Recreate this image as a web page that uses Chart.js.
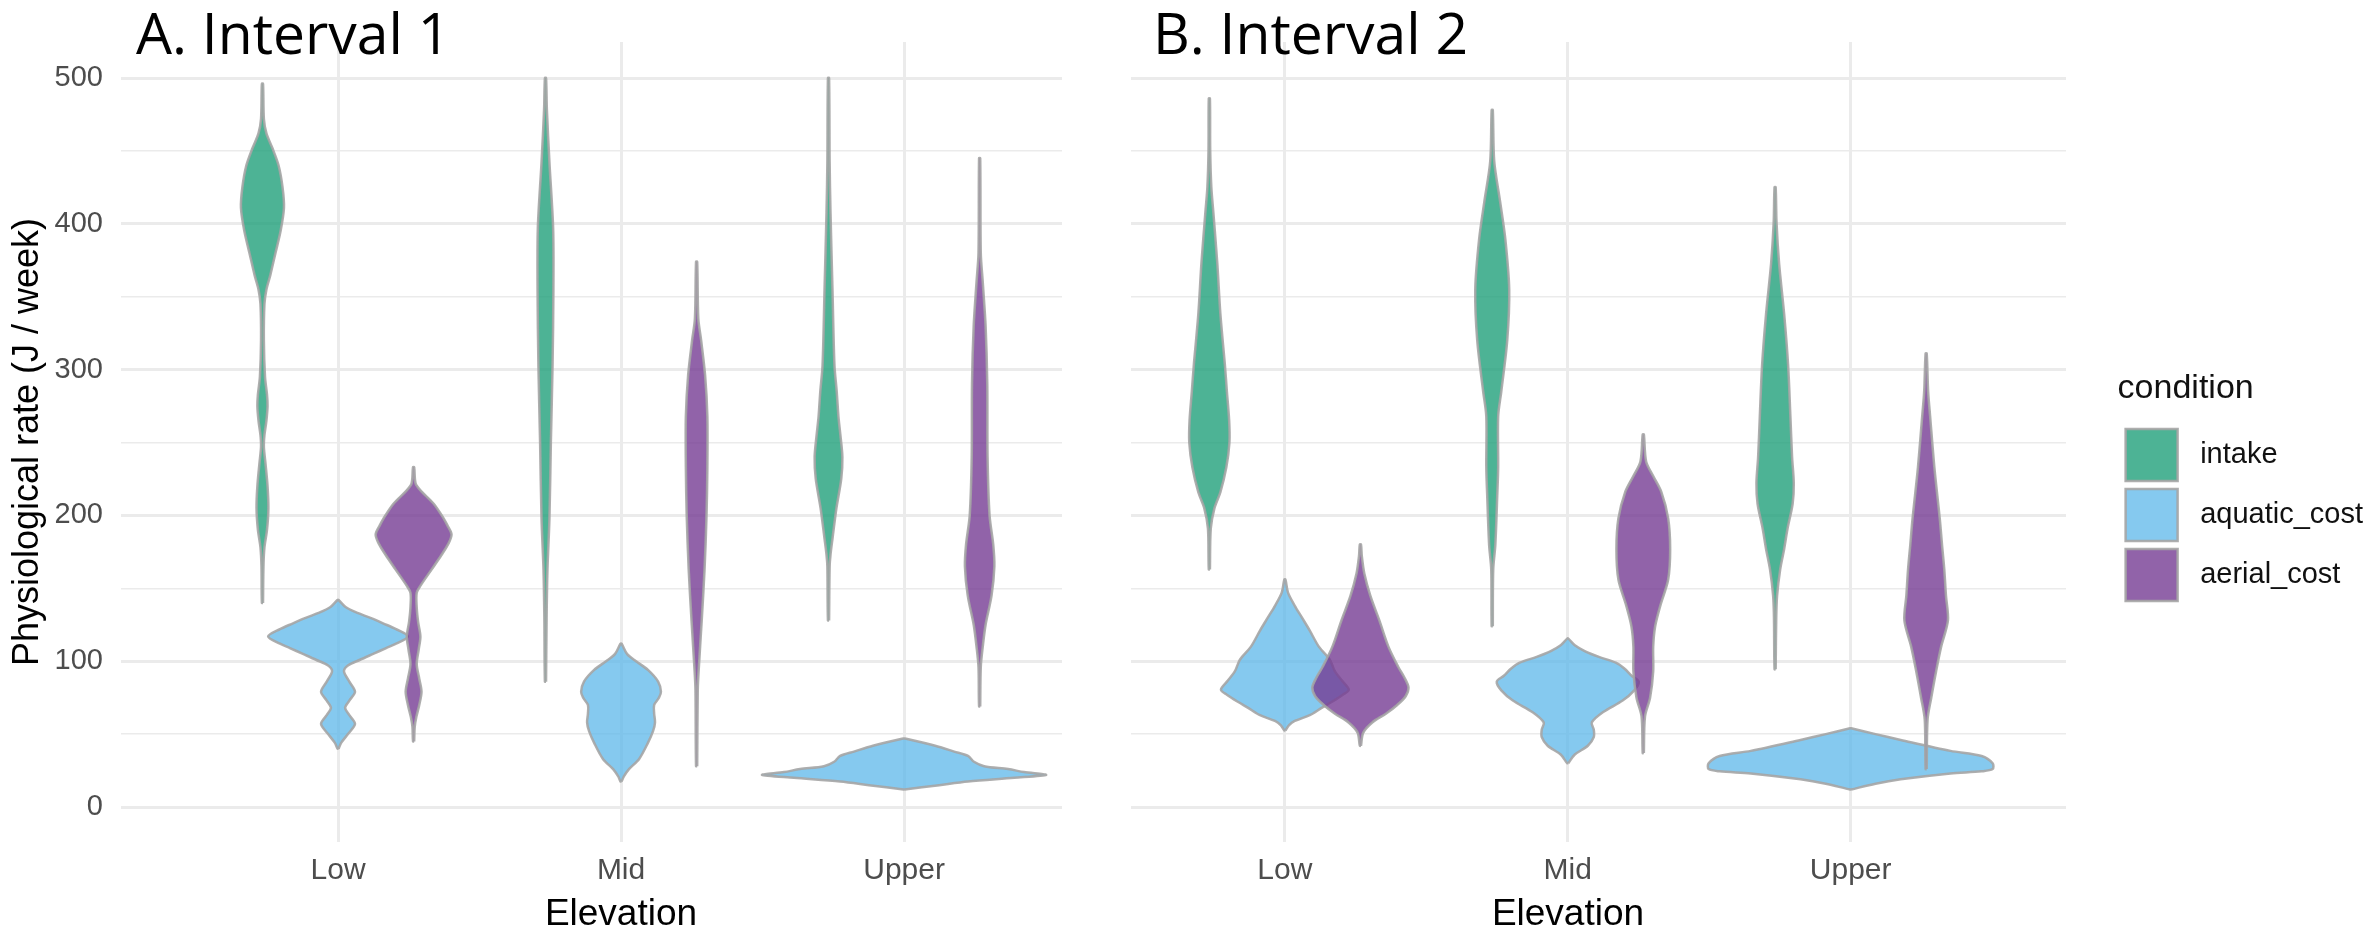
<!DOCTYPE html>
<html><head><meta charset="utf-8">
<script src="https://cdn.jsdelivr.net/npm/chart.js@4.4.1/dist/chart.umd.min.js"></script>
<style>
html,body{margin:0;padding:0;background:#fff;width:2377px;height:933px;overflow:hidden;}
#wrapA{position:absolute;left:0;top:0;width:1100px;height:933px;}
#wrapB{position:absolute;left:1100px;top:0;width:1277px;height:933px;}
.ptitle{position:absolute;font-family:'Open Sans',sans-serif;font-size:57px;line-height:57px;color:#000;white-space:nowrap;}
.xtitle{position:absolute;font-family:'Liberation Sans',Arial,sans-serif;font-size:37px;line-height:37px;color:#000;white-space:nowrap;transform:translateX(-50%);}
</style></head><body>
<div id="wrapA"><canvas id="cA" width="1100" height="933"></canvas></div>
<div id="wrapB"><canvas id="cB" width="1277" height="933"></canvas></div>
<div class="ptitle" style="left:136px;top:4px;">A. Interval 1</div>
<div class="ptitle" style="left:1153px;top:4px;">B. Interval 2</div>
<div class="xtitle" style="left:621px;top:894px;">Elevation</div>
<div class="xtitle" style="left:1568px;top:894px;">Elevation</div>
<script>
// ---- data ----
const categories = ['Low', 'Mid', 'Upper'];
const conditions = ['intake', 'aquatic_cost', 'aerial_cost'];
const conditionColors = ['rgba(27,158,119,0.78)', 'rgba(86,180,233,0.72)', 'rgba(117,60,147,0.80)'];
const dodgeOffsets = [-0.267, 0, 0.267];
const yTicks = [0, 50, 100, 150, 200, 250, 300, 350, 400, 450, 500];

// violin density profiles: [y value, half-width in x-axis units]
const A_Low_intake = [[140,.002],[165,.0035],[178,.007],[190,.016],[205,.021],[220,.018],[235,.011],[247,.005],[255,.007],[265,.014],[275,.018],[283,.016],[295,.009],[320,.005],[345,.007],[355,.014],[365,.028],[380,.046],[395,.064],[411,.076],[425,.071],[440,.057],[452,.035],[462,.014],[472,.005],[496,.002]];
const A_Low_aquatic = [[40,.002],[44,.011],[50,.035],[57,.06],[63,.04],[68,.025],[73,.04],[79,.06],[86,.04],[93,.021],[97,.035],[101,.078],[105,.124],[109,.17],[112,.205],[117,.247],[122,.205],[126,.159],[129,.124],[133,.071],[137,.028],[142,.002]];
const A_Low_aerial = [[45,.002],[55,.004],[62,.01],[70,.02],[79,.028],[88,.02],[98,.011],[108,.018],[117,.024],[127,.016],[137,.011],[147,.011],[152,.025],[163,.064],[173,.099],[181,.124],[187,.134],[193,.12],[198,.106],[208,.071],[217,.025],[222,.007],[233,.002]];
const A_Mid_intake = [[86,.002],[130,.004],[163,.007],[198,.014],[250,.019],[303,.025],[355,.028],[397,.027],[442,.014],[478,.005],[500,.002]];
const A_Mid_aquatic = [[17.5,.002],[21,.01],[26,.028],[33,.064],[44,.095],[52,.113],[58,.12],[64,.117],[70,.117],[75,.134],[79,.141],[86,.131],[94,.095],[100,.053],[105,.021],[112,.002]];
const A_Mid_aerial = [[28,.002],[80,.004],[93,.007],[128,.018],[163,.028],[200,.035],[233,.038],[268,.038],[296,.03],[320,.016],[335,.006],[374,.002]];
const A_Upper_intake = [[128,.002],[165,.004],[173,.007],[184,.014],[205,.028],[225,.045],[240,.049],[255,.042],[268,.035],[285,.029],[303,.021],[355,.014],[408,.007],[442,.004],[500,.002]];
const A_Upper_aquatic = [[12,.002],[15,.124],[17.5,.226],[20,.389],[22,.502],[24,.424],[26,.3675],[28,.283],[31,.247],[35,.226],[38,.177],[42,.11],[47,.002]];
const A_Upper_aerial = [[69,.002],[96,.004],[110,.011],[125,.021],[145,.042],[165,.052],[180,.048],[200,.035],[240,.028],[290,.027],[330,.021],[360,.011],[380,.004],[445,.002]];

const B_Low_intake = [[163,.002],[191,.005],[205,.018],[216,.039],[233,.06],[250,.071],[265,.07],[285,.062],[303,.055],[338,.039],[373,.028],[408,.014],[425,.007],[450,.003],[486,.002]];
const B_Low_aquatic = [[52.5,.002],[56,.014],[59,.035],[63,.088],[68,.13],[72,.165],[77,.205],[80.5,.226],[86,.205],[93,.177],[101,.159],[110,.12],[121,.088],[130,.06],[138,.035],[147,.011],[156,.002]];
const B_Low_aerial = [[42,.002],[51,.01],[58,.042],[64,.09],[70,.13],[76,.16],[82,.17],[89,.155],[96,.134],[110,.099],[128,.067],[145,.035],[160,.014],[172,.005],[180,.002]];
const B_Mid_intake = [[124,.002],[163,.0035],[180,.011],[215,.018],[233,.021],[268,.021],[285,.032],[320,.053],[355,.06],[390,.046],[415,.028],[443,.007],[478,.002]];
const B_Mid_aquatic = [[30,.002],[36,.025],[42,.071],[48,.092],[53,.092],[58,.085],[65,.124],[73,.194],[80,.235],[86,.251],[90,.226],[95,.2],[99,.17],[103,.11],[107,.06],[111,.025],[115.5,.002]];
const B_Mid_aerial = [[37,.002],[62,.006],[75,.024],[93,.035],[110,.035],[124,.042],[138,.06],[156,.088],[177,.095],[198,.088],[216,.064],[227,.035],[237,.01],[255.5,.002]];
const B_Upper_intake = [[94.5,.002],[130,.004],[145,.007],[163,.018],[177,.032],[191,.044],[208,.062],[222,.066],[240,.06],[268,.054],[303,.046],[338,.032],[373,.014],[401,.005],[425,.002]];
const B_Upper_aquatic = [[12,.002],[16,.088],[19,.177],[23,.353],[24.5,.463],[26,.502],[30,.502],[35,.463],[38.5,.353],[46,.177],[50,.088],[54,.002]];
const B_Upper_aerial = [[26,.002],[60,.005],[75,.018],[93,.035],[110,.053],[128,.077],[145,.07],[163,.064],[180,.056],[198,.048],[233,.029],[268,.014],[285,.007],[311,.002]];

const panelA = [[A_Low_intake, A_Low_aquatic, A_Low_aerial], [A_Mid_intake, A_Mid_aquatic, A_Mid_aerial], [A_Upper_intake, A_Upper_aquatic, A_Upper_aerial]];
const panelB = [[B_Low_intake, B_Low_aquatic, B_Low_aerial], [B_Mid_intake, B_Mid_aquatic, B_Mid_aerial], [B_Upper_intake, B_Upper_aquatic, B_Upper_aerial]];

// ---- styling ----
const FONT = "'Liberation Sans', Arial, sans-serif";
const OUTLINE = 'rgba(165,165,165,0.9)';
const GRID = '#EBEBEB';

function violinPoints(center, prof) {
  const pts = [];
  for (const [y, w] of prof) pts.push({x: center + w, y: y});
  for (let i = prof.length - 1; i >= 0; i--) pts.push({x: center - prof[i][1], y: prof[i][0]});
  pts.push({x: pts[0].x, y: pts[0].y});
  return pts;
}
function buildDatasets(groups) {
  const ds = [];
  groups.forEach((g, gi) => g.forEach((prof, ci) => {
    ds.push({
      label: conditions[ci],
      data: violinPoints(gi + 1 + dodgeOffsets[ci], prof),
      backgroundColor: conditionColors[ci],
      borderColor: OUTLINE,
      borderWidth: 2.5,
      fill: 'shape',
      pointRadius: 0,
      pointHoverRadius: 0,
      tension: 0.3,
      order: -ds.length
    });
  }));
  return ds;
}
function xScale(min, max) {
  return {
    type: 'linear', min: min, max: max,
    afterBuildTicks: s => { s.ticks = categories.map((c, i) => ({value: i + 1})); },
    afterFit: s => { s.height = 91; },
    grid: {color: GRID, lineWidth: 3, drawTicks: false},
    border: {display: false},
    ticks: {autoSkip: false, maxRotation: 0, padding: 11, color: '#4D4D4D', font: {family: FONT, size: 30},
      callback: v => categories[Math.round(v) - 1] || ''}
  };
}
function yGrid() {
  return {color: GRID, drawTicks: false, lineWidth: c => (c.tick && c.tick.value % 100 === 0) ? 3 : 1.6};
}
const Y_MIN = -24, Y_MAX = 524.7;

new Chart(document.getElementById('cA'), {
  type: 'line',
  data: {datasets: buildDatasets(panelA)},
  options: {
    responsive: false, animation: false, devicePixelRatio: 1, events: [],
    layout: {padding: {top: 42, right: 38, left: 0, bottom: 0}},
    scales: {
      x: xScale(0.2332, 3.558),
      y: {
        type: 'linear', min: Y_MIN, max: Y_MAX,
        afterBuildTicks: s => { s.ticks = yTicks.map(v => ({value: v})); },
        afterFit: s => { s.width = 121; },
        grid: yGrid(),
        border: {display: false},
        ticks: {autoSkip: false, padding: 18, color: '#4D4D4D', font: {family: FONT, size: 29},
          callback: v => (v % 100 === 0 ? String(v) : '')},
        title: {display: true, text: 'Physiological rate (J / week)', color: '#000', font: {family: FONT, size: 36}, padding: {top: 6, bottom: 0}}
      }
    },
    plugins: {legend: {display: false}, tooltip: {enabled: false}}
  }
});

new Chart(document.getElementById('cB'), {
  type: 'line',
  data: {datasets: buildDatasets(panelB)},
  options: {
    responsive: false, animation: false, devicePixelRatio: 1, events: [],
    layout: {padding: {top: 42, right: 4, left: 31, bottom: 0}},
    scales: {
      x: xScale(0.456, 3.760),
      y: {
        type: 'linear', position: 'right', min: Y_MIN, max: Y_MAX,
        afterBuildTicks: s => { s.ticks = yTicks.map(v => ({value: v})); },
        afterFit: s => { s.width = 52; },
        grid: yGrid(),
        border: {display: false},
        ticks: {display: false}
      }
    },
    plugins: {
      tooltip: {enabled: false},
      legend: {
        display: true, position: 'right', align: 'center',
        title: {display: true, text: 'condition', position: 'start', color: '#111', font: {family: FONT, size: 34}, padding: {top: 6, bottom: 8}},
        labels: {
          boxWidth: 52, boxHeight: 52, padding: 8, color: '#222', font: {family: FONT, size: 29},
          generateLabels: () => conditions.map((c, i) => ({
            text: ' ' + c, fillStyle: conditionColors[i], strokeStyle: OUTLINE, lineWidth: 2.5, hidden: false, datasetIndex: i
          }))
        }
      }
    }
  }
});
</script>
</body></html>
